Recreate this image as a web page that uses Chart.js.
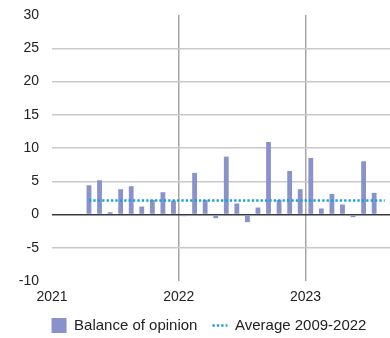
<!DOCTYPE html>
<html>
<head>
<meta charset="utf-8">
<script src="https://cdn.jsdelivr.net/npm/chart.js@4/dist/chart.umd.min.js"></script>
<style>
html,body{margin:0;padding:0;background:#fff;}
#wrap{width:390px;height:338px;}
</style>
</head>
<body>
<div id="wrap"><canvas id="c" width="390" height="338"></canvas></div>
<script>
// Data
const categories = ['2021-04','2021-05','2021-06','2021-07','2021-08','2021-09','2021-10','2021-11','2021-12',
  '2022-01','2022-02','2022-03','2022-04','2022-05','2022-06','2022-07','2022-08','2022-09','2022-10','2022-11','2022-12',
  '2023-01','2023-02','2023-03','2023-04','2023-05','2023-06','2023-07'];
const balance = [4.4, 5.15, 0.35, 3.8, 4.25, 1.2, 2.2, 3.35, 2.1,
  -0.25, 6.25, 2.2, -0.55, 8.7, 1.65, -1.15, 1.05, 10.9, 2.2, 6.55, 3.8,
  8.5, 0.9, 3.1, 1.5, -0.4, 8.0, 3.25];
const averageMonths = ['2021-04','2023-08'];
const averageValue = [2.1, 2.1];
const tickLabels = ['2021','2022','2023'];
const tickMonths = ['2021-01','2022-01','2023-01'];
const seriesNames = ['Balance of opinion','Average 2009-2022'];

const FONT = "'Liberation Sans', Arial, sans-serif";
const baseYear = 2021;
function monthPos(s){ const [y,m] = s.split('-').map(Number); return (y-baseYear)*12 + (m-1); }

const barData = categories.map((c,i)=>({x: monthPos(c)+0.5, y: balance[i]}));
const avgData = averageMonths.map((c,i)=>({x: monthPos(c)+0.5, y: averageValue[i]}));
const tickVals = tickMonths.map(monthPos);

const legendShift = { id:'legendShift', afterLayout(chart){ if(chart.legend){ chart.legend.left += 28; } } };

new Chart(document.getElementById('c'), {
  type: 'bar',
  plugins:[legendShift],
  data: {
    datasets: [
      { type:'bar', label: seriesNames[0], data: barData, backgroundColor:'#8793ca', borderWidth:0,
        barPercentage:0.57, categoryPercentage:0.8, order:1 },
      { type:'line', label: seriesNames[1], data: avgData, borderColor:'#1c9fd9', backgroundColor:'#1c9fd9',
        borderWidth:2.5, borderDash:[2.3,2.1], pointRadius:0, fill:false, order:0, pointStyle:'line' }
    ]
  },
  options: {
    responsive:false, animation:false,
    layout:{ padding:{ top:0, right:0, bottom:-5, left:0 } },
    plugins:{
      tooltip:{enabled:false},
      legend:{
        position:'bottom',
        labels:{
          font:{family:FONT, size:15}, color:'#222',
          usePointStyle:true, boxHeight:15, pointStyleWidth:15, padding:15,
          sort:(a,b)=>a.datasetIndex-b.datasetIndex,
          generateLabels:(chart)=>{
            const items = Chart.defaults.plugins.legend.labels.generateLabels(chart);
            items.forEach(it=>{
              if(it.datasetIndex===0){ it.pointStyle='rect'; it.lineWidth=0; }
              else { it.pointStyle='line'; it.lineWidth=2.5; it.lineDash=[2.3,2.1]; }
            });
            return items;
          }
        }
      }
    },
    scales:{
      x:{
        type:'linear', min:0, max:32, offset:false,
        border:{display:false},
        afterFit:(scale)=>{ scale.height = 22; },
        grid:{ offset:false, drawTicks:false, lineWidth:1.5,
          color:(ctx)=> (ctx.tick && (ctx.tick.value===tickVals[1]||ctx.tick.value===tickVals[2])) ? '#a6a6a6' : 'rgba(0,0,0,0)' },
        afterBuildTicks:(scale)=>{ scale.ticks = tickVals.map(v=>({value:v})); },
        ticks:{ autoSkip:false, maxRotation:0, padding:8, color:'#222', font:{family:FONT, size:14},
          callback:(v)=>{ const i = tickVals.indexOf(v); return i>=0 ? tickLabels[i] : ''; } }
      },
      y:{
        min:-10, max:30,
        border:{display:false},
        afterFit:(scale)=>{ scale.width = 52; scale.paddingTop = 15; scale.paddingBottom = 0; },
        grid:{ drawTicks:false, lineWidth:1.5,
          color:(ctx)=>{ const v = ctx.tick ? ctx.tick.value : null;
            if(v===0) return '#3a3a3a';
            if(v===30||v===-10) return 'rgba(0,0,0,0)';
            return '#c9c9c9'; } },
        ticks:{ stepSize:5, padding:13, color:'#222', font:{family:FONT, size:14} }
      }
    }
  }
});
</script>
</body>
</html>
